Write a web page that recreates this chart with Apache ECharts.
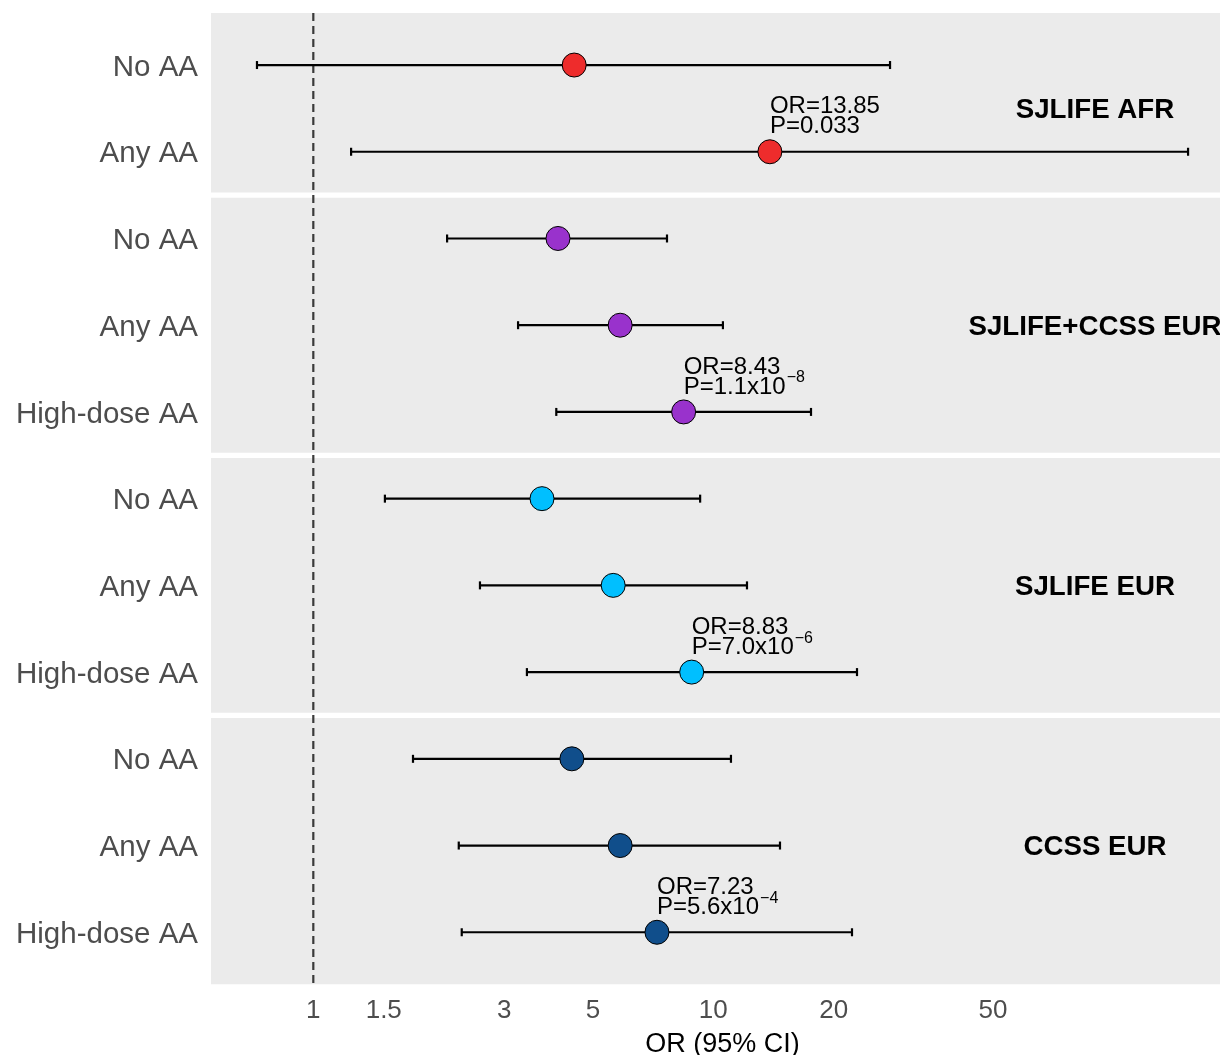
<!DOCTYPE html>
<html><head><meta charset="utf-8">
<script src="https://cdn.jsdelivr.net/npm/echarts@6/dist/echarts.min.js"></script>
<style>html,body{margin:0;padding:0;background:#fff}#c{width:1220px;height:1055px}</style>
</head><body><div id="c"></div>
<script>
// ---- data ----
const rowLabels = ['No AA','Any AA','No AA','Any AA','High-dose AA','No AA','Any AA','High-dose AA','No AA','Any AA','High-dose AA'];
const rowGroup = [0,0,1,1,1,2,2,2,3,3,3];
const groupNames = ['SJLIFE AFR','SJLIFE+CCSS EUR','SJLIFE EUR','CCSS EUR'];
const groupColors = ['#EE2C2C','#9932CC','#00BFFF','#104E8B'];
const orValues = [4.49, 13.85, 4.09, 5.85, 8.43, 3.73, 5.62, 8.83, 4.43, 5.85, 7.23];
const ciLower  = [0.723, 1.243, 2.16, 3.25, 4.05, 1.51, 2.61, 3.42, 1.775, 2.31, 2.35];
const ciUpper  = [27.66, 153.8, 7.66, 10.57, 17.55, 9.27, 12.14, 22.87, 11.07, 14.68, 22.22];
const xTicks = [1, 1.5, 3, 5, 10, 20, 50];
const xTickLabels = ['1','1.5','3','5','10','20','50'];
const annRows = [1, 4, 7, 10];
const annOR = ['13.85','8.43','8.83','7.23'];
const annPBase = ['0.033','1.1x10','7.0x10','5.6x10'];
const annPExp = ['','−8','−6','−4'];
const groupLabelX = 90;
const refLine = 1;

// ---- build ----
const L = Math.log10;
const FONT = '"Liberation Sans", Arial, Helvetica, sans-serif';
const ANN_SIZE = 24, SUP_SIZE = 16;
const xMin = -0.2558, xMax = 2.2668;
const yMin = -0.6, yMax = rowLabels.length - 1 + 0.6;

const measureCtx = document.createElement('canvas').getContext('2d');
function textWidth(s, size) {
  measureCtx.font = size + 'px ' + FONT;
  return measureCtx.measureText(s).width;
}

const panels = groupNames.map((name, g) => {
  const idx = rowGroup.map((v, i) => v === g ? i : -1).filter(i => i >= 0);
  const f = idx[0], l = idx[idx.length - 1];
  return {
    name,
    lo: g === 0 ? yMin : f - 0.47,
    hi: g === groupNames.length - 1 ? yMax : l + 0.47,
    mid: (f + l) / 2
  };
});

const chart = echarts.init(document.getElementById('c'), null, {renderer: 'canvas'});
const option = {
  animation: false,
  backgroundColor: '#ffffff',
  grid: {left: 211, right: 0, top: 13, bottom: 70.7, containLabel: false, outerBoundsMode: 'none'},
  xAxis: {
    type: 'value', min: xMin, max: xMax,
    splitLine: {show: false},
    axisLine: {show: false},
    axisTick: {show: true, customValues: xTicks.map(L), length: 6, lineStyle: {color: '#333333', width: 1.6}},
    axisLabel: {
      customValues: xTicks.map(L), margin: 14,
      fontSize: 26, color: '#4D4D4D', fontFamily: FONT,
      formatter: v => {
        const k = xTicks.findIndex(t => Math.abs(L(t) - v) < 1e-6);
        return k >= 0 ? xTickLabels[k] : '';
      }
    },
    name: 'OR (95% CI)', nameLocation: 'middle', nameGap: 47,
    nameTextStyle: {fontSize: 27, color: '#000', fontFamily: FONT, padding: [0, 0, 0, 14]}
  },
  yAxis: {
    type: 'value', inverse: true, min: yMin, max: yMax,
    splitLine: {show: false}, axisLine: {show: false}, axisTick: {show: false},
    axisLabel: {
      customValues: rowLabels.map((_, i) => i), margin: 13,
      fontSize: 29.5, color: '#4D4D4D', fontFamily: FONT,
      formatter: v => '{r|' + (rowLabels[Math.round(v)] || '') + '}',
      rich: {r: {fontSize: 29.5, color: '#4D4D4D', fontFamily: FONT, padding: [5, 0, 0, 0]}}
    }
  },
  series: [
    { // panel backgrounds
      type: 'custom', z: 1, silent: true,
      data: panels.map(p => [p.lo, p.hi]),
      encode: {y: [0, 1]},
      renderItem: (params, api) => {
        const cs = params.coordSys;
        const y1 = api.coord([xMin, api.value(0)])[1];
        const y2 = api.coord([xMin, api.value(1)])[1];
        return {type: 'rect', shape: {x: cs.x, y: Math.min(y1, y2), width: cs.width, height: Math.abs(y2 - y1)},
                style: {fill: '#EBEBEB'}};
      }
    },
    { // reference dashed line
      type: 'custom', z: 2, silent: true,
      data: [[L(refLine)]],
      encode: {x: 0},
      renderItem: (params, api) => {
        const cs = params.coordSys;
        const x = api.coord([api.value(0), 0])[0];
        return {type: 'line', shape: {x1: x, y1: cs.y, x2: x, y2: cs.y + cs.height},
                style: {stroke: '#3A3A3A', lineWidth: 2.2, lineDash: [8, 5]}};
      }
    },
    { // error bars
      type: 'custom', z: 3, silent: true,
      data: rowLabels.map((_, i) => [i, L(ciLower[i]), L(ciUpper[i])]),
      encode: {x: [1, 2], y: 0},
      renderItem: (params, api) => {
        const y = api.value(0);
        const a = api.coord([api.value(1), y]), b = api.coord([api.value(2), y]);
        const h = 4;
        const st = {stroke: '#000', lineWidth: 2.2};
        return {type: 'group', children: [
          {type: 'line', shape: {x1: a[0], y1: a[1], x2: b[0], y2: b[1]}, style: st},
          {type: 'line', shape: {x1: a[0], y1: a[1] - h, x2: a[0], y2: a[1] + h}, style: st},
          {type: 'line', shape: {x1: b[0], y1: b[1] - h, x2: b[0], y2: b[1] + h}, style: st}
        ]};
      }
    },
    { // points
      type: 'scatter', z: 4, symbol: 'circle', symbolSize: 24,
      itemStyle: {borderColor: '#000', borderWidth: 1, opacity: 1},
      data: orValues.map((v, i) => ({value: [L(v), i], itemStyle: {color: groupColors[rowGroup[i]]}}))
    },
    { // annotations
      type: 'custom', z: 5, silent: true,
      data: annRows.map((r, k) => [L(parseFloat(annOR[k])), r]),
      encode: {x: 0, y: 1},
      renderItem: (params, api) => {
        const k = params.dataIndex;
        const p = api.coord([api.value(0), api.value(1)]);
        const pText = 'P=' + annPBase[k];
        const children = [
          {type: 'text', x: p[0], y: p[1] - 45, style: {
            text: 'OR=' + annOR[k], fill: '#000', fontSize: ANN_SIZE, fontFamily: FONT,
            align: 'left', verticalAlign: 'middle'}},
          {type: 'text', x: p[0], y: p[1] - 25, style: {
            text: pText, fill: '#000', fontSize: ANN_SIZE, fontFamily: FONT,
            align: 'left', verticalAlign: 'middle'}}
        ];
        if (annPExp[k]) {
          children.push({type: 'text', x: p[0] + textWidth(pText, ANN_SIZE) + 1, y: p[1] - 34, style: {
            text: annPExp[k], fill: '#000', fontSize: SUP_SIZE, fontFamily: FONT,
            align: 'left', verticalAlign: 'middle'}});
        }
        return {type: 'group', children};
      }
    },
    { // panel labels
      type: 'custom', z: 5, silent: true,
      data: panels.map(p => [L(groupLabelX), p.mid]),
      encode: {x: 0, y: 1},
      renderItem: (params, api) => {
        const p = api.coord([api.value(0), api.value(1)]);
        return {type: 'text', x: p[0], y: p[1] + 2, style: {
          text: panels[params.dataIndex].name, fill: '#000', fontSize: 27.7, fontWeight: 'bold',
          fontFamily: FONT, align: 'center', verticalAlign: 'middle'}};
      }
    }
  ]
};
chart.setOption(option);
</script>
</body></html>
